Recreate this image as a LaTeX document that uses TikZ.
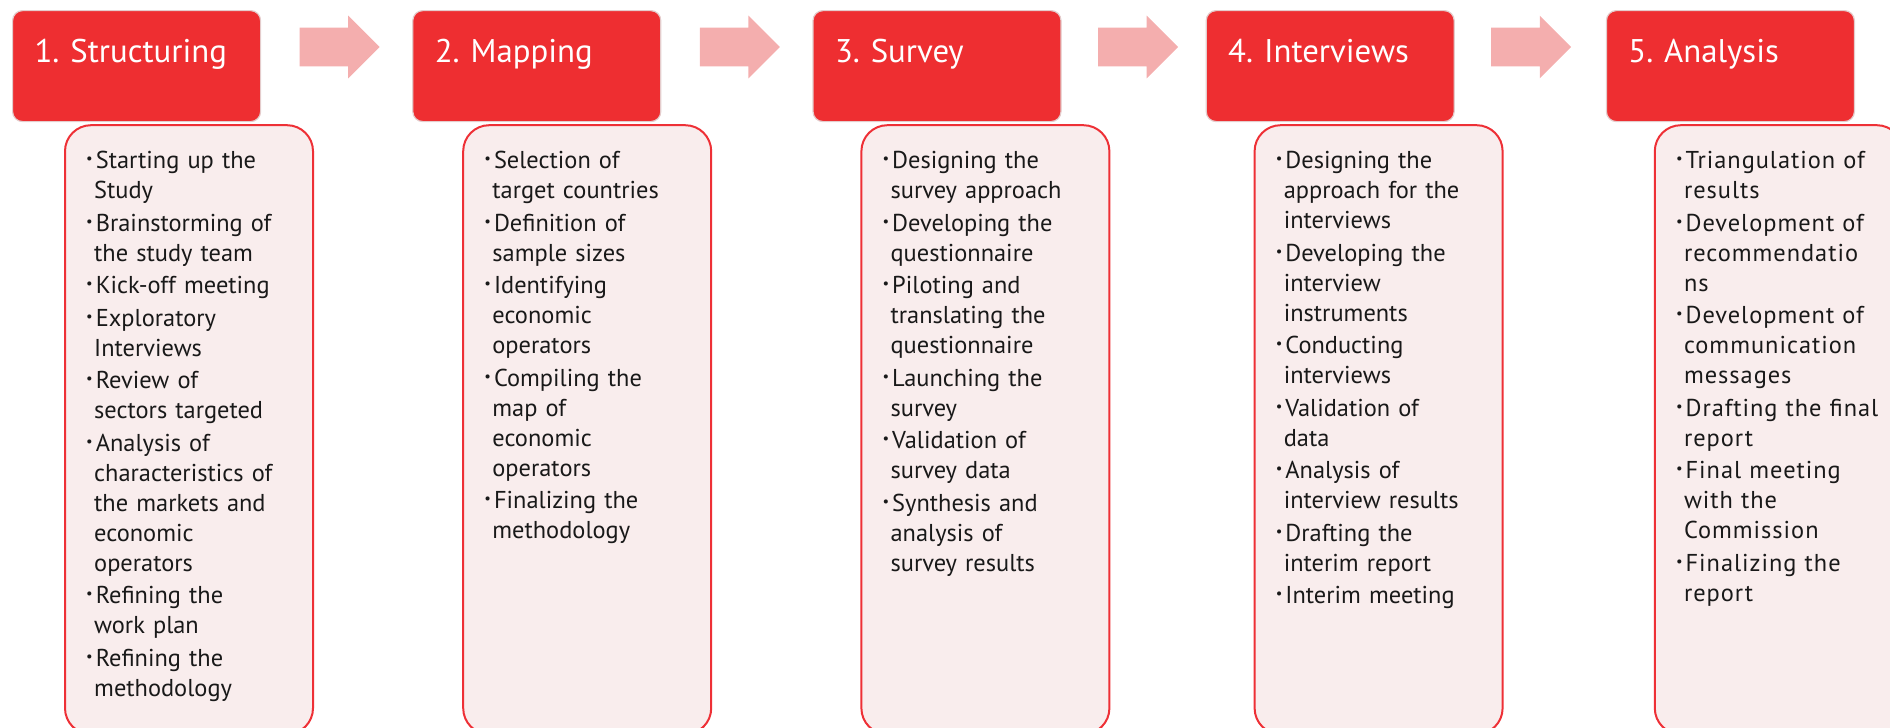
\documentclass[tikz,border=0pt]{standalone}
\usepackage{fontspec}
\setmainfont{PT Sans}
\usepackage{graphicx}
\usepackage{enumitem}
\usetikzlibrary{positioning,shapes.arrows}

\definecolor{headred}{HTML}{EE2E31}
\definecolor{headrim}{HTML}{E4CCCC}
\definecolor{taskfill}{HTML}{F9EDED}
\definecolor{taskrim}{HTML}{EE3036}
\definecolor{flowpink}{HTML}{F4AEAE}

\newlist{steplist}{itemize}{1}
\setlist[steplist]{label={\raisebox{0.2em}{\scalebox{0.6}{\textbullet}}}, align=left,
    leftmargin=4pt, labelwidth=2.5pt, labelsep=1.5pt, rightmargin=-20pt,
    itemsep=1.25pt, topsep=0pt, parsep=0pt, partopsep=0pt}

\begin{document}
\begin{tikzpicture}[
    node distance=75.5pt,
    head/.style={rectangle, rounded corners=5pt, draw=headrim, line width=0.6pt,
                 fill=headred, text=white, text width=102pt, inner xsep=11pt, inner ysep=0pt,
                 text height=26pt, text depth=29.5pt, align=left,
                 font={\fontsize{16.4pt}{19pt}\selectfont\frenchspacing\hyphenpenalty 10000\relax}},
    tasks/.style={rectangle, rounded corners=13pt, draw=taskrim, line width=1pt,
                  fill=taskfill, text=black!90, text width=102.8pt, inner xsep=10.6pt, inner ysep=0pt,
                  text height=6.8pt, text depth=297.7pt, align=left,
                  font=\fontsize{12.2pt}{15pt}\selectfont},
    wide/.style={font=\fontsize{12.2pt}{15pt}\selectfont\addfontfeatures{LetterSpace=4}},
    flow/.style={single arrow, fill=flowpink, minimum height=40pt, minimum width=31pt,
                 single arrow head extend=6pt, inner xsep=0pt, inner ysep=9.5pt}
]
\useasboundingbox (0,0) rectangle (945pt,-364pt);
\clip (0,0) rectangle (945pt,-364pt);

\node[head, anchor=north west] (structuring) at (6pt,-5pt) {1.~Structuring};
\node[head, right=of structuring] (mapping) {2.~Mapping};
\node[head, right=of mapping] (survey) {3.~Survey};
\node[head, right=72pt of survey] (interviews) {4.~Interviews};
\node[head, right=of interviews] (analysis) {5.~Analysis};

\node[flow, right=19pt of structuring.north east, yshift=-18.5pt] (flow1) {};
\node[flow, right=19pt of mapping.north east, yshift=-18.5pt] (flow2) {};
\node[flow, right=18pt of survey.north east, yshift=-18.5pt] (flow3) {};
\node[flow, right=18pt of interviews.north east, yshift=-18.5pt] (flow4) {};

\node[tasks, below right=1pt and 26pt of structuring.south west] (structuring-tasks) {%
\begin{steplist}
\item Starting up the\\ Study
\item Brainstorming of\\ the study team
\item Kick-off meeting
\item Exploratory\\ Interviews
\item Review of\\ sectors targeted
\item Analysis of\\ characteristics of\\ the markets and\\ economic\\ operators
\item Refining the\\ work plan
\item Refining the\\ methodology
\end{steplist}};
\node[tasks, below right=1pt and 25pt of mapping.south west] (mapping-tasks) {%
\begin{steplist}
\item Selection of\\ target countries
\item Definition of\\ sample sizes
\item Identifying\\ economic\\ operators
\item Compiling the\\ map of\\ economic\\ operators
\item Finalizing the\\ methodology
\end{steplist}};
\node[tasks, below right=1pt and 24pt of survey.south west] (survey-tasks) {%
\begin{steplist}
\item Designing the\\ survey approach
\item Developing the\\ questionnaire
\item Piloting and\\ translating the\\ questionnaire
\item Launching the\\ survey
\item Validation of\\ survey data
\item Synthesis and\\ analysis of\\ survey results
\end{steplist}};
\node[tasks, below right=1pt and 24pt of interviews.south west] (interviews-tasks) {%
\begin{steplist}
\item Designing the\\ approach for the\\ interviews
\item Developing the\\ interview\\ instruments
\item Conducting\\ interviews
\item Validation of\\ data
\item Analysis of\\ interview results
\item Drafting the\\ interim report
\item Interim meeting
\end{steplist}};
\node[tasks, wide, below right=1pt and 24pt of analysis.south west] (analysis-tasks) {%
\begin{steplist}
\item Triangulation of\\ results
\item Development of\\ recommendatio\\ ns
\item Development of\\ communication\\ messages
\item Drafting the final\\ report
\item Final meeting\\ with the\\ Commission
\item Finalizing the\\ report
\end{steplist}};
\end{tikzpicture}
\end{document}
